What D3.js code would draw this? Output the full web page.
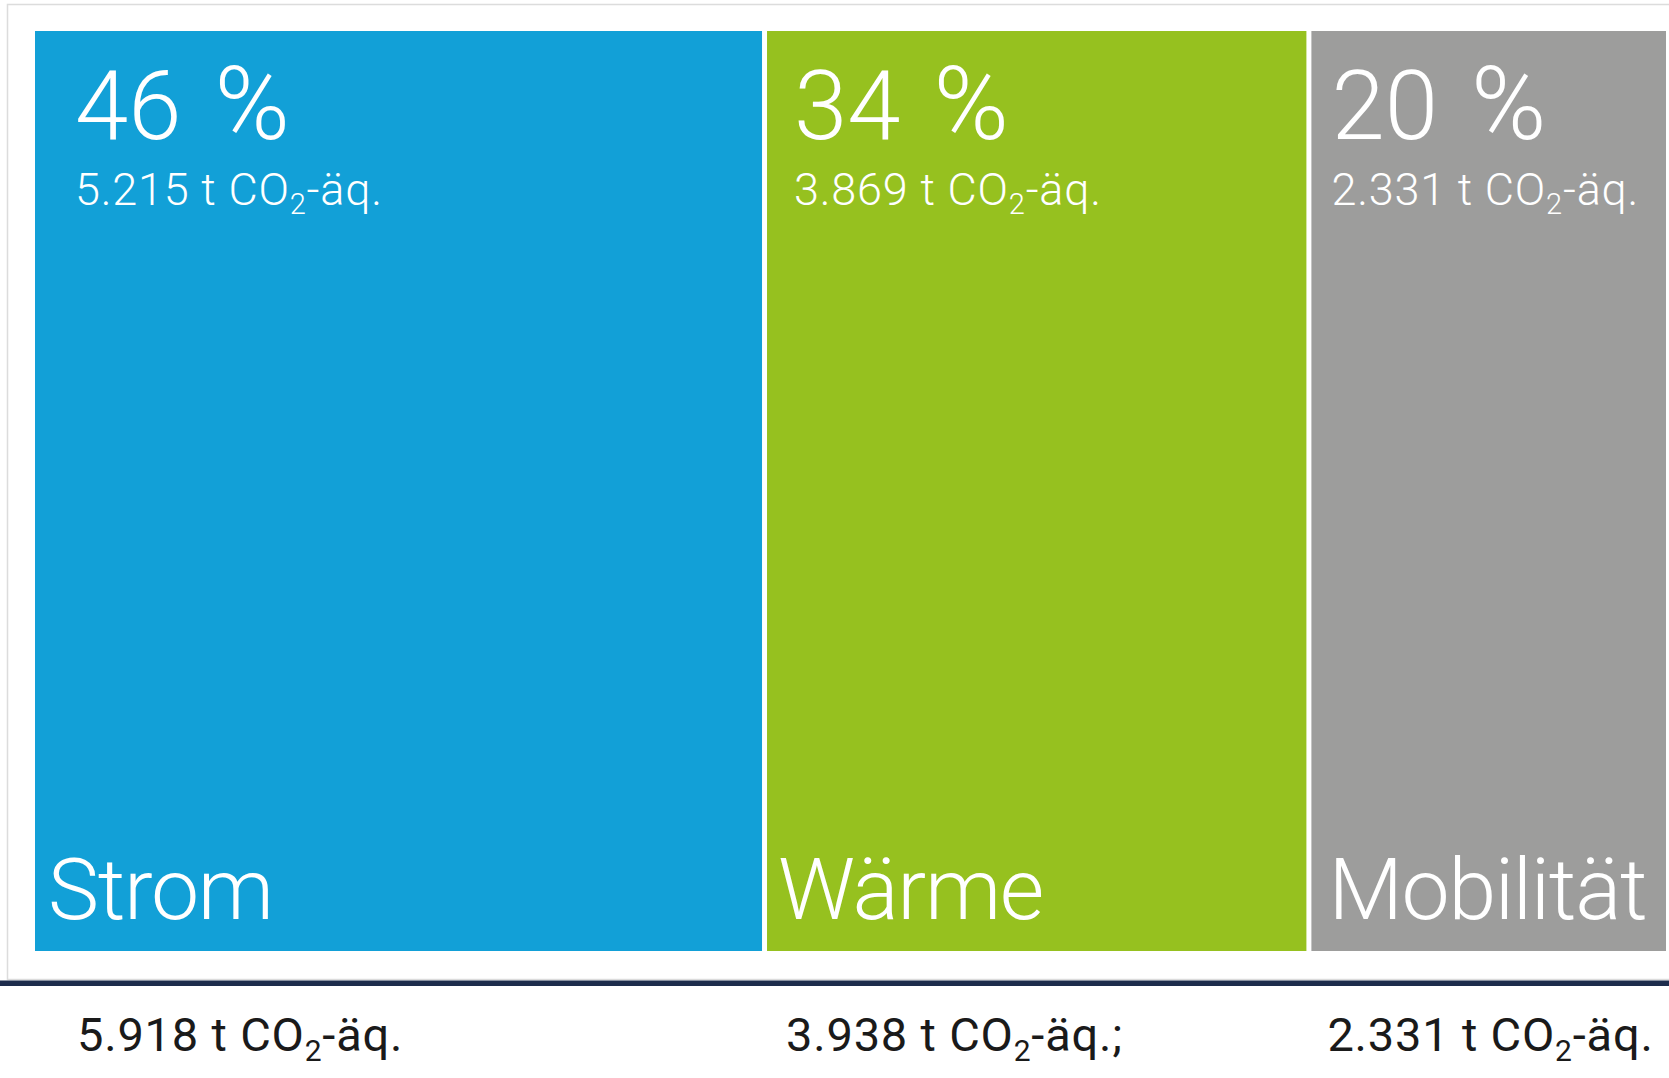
<!DOCTYPE html>
<html>
    <head>
        <meta charset="utf-8">
        <script src="https://cdn.jsdelivr.net/npm/d3@7"></script>
        <style>
            body { margin: 0; background: #fff; }
            text { font-family: Roboto, "Noto Sans", sans-serif; }
        </style>
    </head>
    <body>
        <svg id="chart" width="1669" height="1078"></svg>
        <script>
            // Data
            var categories = ["Strom", "Wärme", "Mobilität"];
            var shares = [46, 34, 20];
            var tileValues = [5215, 3869, 2331];
            var totalValues = [5918, 3938, 2331];
            var totalEndings = ["-äq.", "-äq.;", "-äq."];
            var colors = ["#12a0d7", "#96c11f", "#9d9d9c"];

            // Layout
            var tileTop = 31, tileBottom = 951, gap = 5, rightEdge = 1666;
            var pctInset = [40, 27, 20];
            var nameInset = [13, 11, 17];
            var totalInset = [42, 19, 16];

            var de = d3.formatLocale({decimal: ",", thousands: ".", grouping: [3], currency: ["", " €"]});
            var num = de.format(",");

            var svg = d3.select("svg#chart");

            // frame
            svg.append("rect").attr("x", 7.5).attr("y", 4.5).attr("width", 1700).attr("height", 975)
                .attr("fill", "#fff").attr("stroke", "#dcdcdc").attr("stroke-width", 1.5);

            // x scale: tile width proportional to the emissions of each tile
            var cum = [0];
            tileValues.forEach(function(v, i) { cum.push(cum[i] + v); });
            var x = d3.scaleLinear().domain([0, cum[2]]).range([35, 35 + cum[2] * 0.13941]);

            var tiles = categories.map(function(c, i) {
                var x0 = x(cum[i]) + i * gap;
                var x1 = i < categories.length - 1 ? x(cum[i + 1]) + i * gap : rightEdge;
                return {name: c, share: shares[i], value: tileValues[i], total: totalValues[i],
                        ending: totalEndings[i], color: colors[i], x0: x0, x1: x1, i: i};
            });

            var g = svg.append("g").selectAll("g").data(tiles).enter().append("g");

            g.append("rect")
                .attr("x", function(d) { return d.x0; })
                .attr("y", tileTop)
                .attr("width", function(d) { return d.x1 - d.x0; })
                .attr("height", tileBottom - tileTop)
                .attr("fill", function(d) { return d.color; });

            // percentages
            g.append("text")
                .attr("x", function(d) { return d.x0 + pctInset[d.i]; })
                .attr("y", 139)
                .attr("fill", "#fff").style("font-size", "96px").style("font-weight", 300)
                .each(function(d) {
                    var t = d3.select(this);
                    t.append("tspan").text(d.share);
                    t.append("tspan").attr("dx", 33).style("font-size", "102px").text("%");
                });

            // amount inside the tile
            g.append("text")
                .attr("x", function(d) { return d.x0 + pctInset[d.i]; })
                .attr("y", 205)
                .attr("fill", "#fff").style("font-size", "45px").style("font-weight", 300)
                .style("letter-spacing", "0.8px")
                .each(function(d) {
                    var t = d3.select(this);
                    t.append("tspan").text(num(d.value) + " t CO");
                    t.append("tspan").attr("dy", 9).style("font-size", "29px").text("2");
                    t.append("tspan").attr("dy", -9).text("-äq.");
                });

            // category names
            g.append("text")
                .attr("x", function(d) { return d.x0 + nameInset[d.i]; })
                .attr("y", 919)
                .attr("fill", "#fff").style("font-size", "86px").style("font-weight", 300)
                .style("letter-spacing", "-1.3px")
                .text(function(d) { return d.name; });

            // dark rule
            svg.append("rect").attr("x", 0).attr("y", 980.5).attr("width", 1669).attr("height", 5.5).attr("fill", "#1d2c4c");

            // totals under the rule
            g.append("text")
                .attr("x", function(d) { return d.x0 + totalInset[d.i]; })
                .attr("y", 1051)
                .attr("fill", "#1a1a1a").style("font-size", "47px").style("font-weight", 400)
                .style("letter-spacing", "0.8px")
                .each(function(d) {
                    var t = d3.select(this);
                    t.append("tspan").text(num(d.total) + " t CO");
                    t.append("tspan").attr("dy", 10).style("font-size", "30px").text("2");
                    t.append("tspan").attr("dy", -10).text(d.ending);
                });
        </script>
    </body>
</html>
